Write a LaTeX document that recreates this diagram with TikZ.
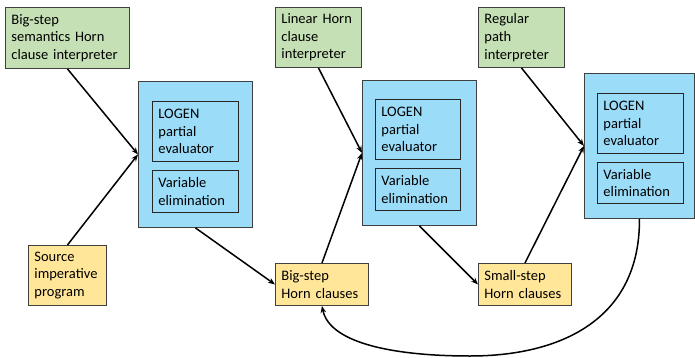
\documentclass[tikz,border=0pt]{standalone}
\usepackage{fontspec}
\setmainfont{Carlito}
\usetikzlibrary{arrows.meta}

\definecolor{boxgreen}{HTML}{C5E0B4}
\definecolor{boxblue}{HTML}{9BDCF8}
\definecolor{boxyellow}{HTML}{FFE699}
\definecolor{boxline}{HTML}{404040}

\tikzset{
  box/.style={draw=boxline, line width=0.9pt, anchor=north west, align=left,
    inner xsep=6pt, inner ysep=0pt, font=\fontsize{14.5}{17.7}\selectfont},
  gbox/.style={box, fill=boxgreen},
  ybox/.style={box, fill=boxyellow},
  pebox/.style={box, fill=boxblue},
  ibox/.style={box, draw=black!85},
  flow/.style={-{Stealth[length=7pt,width=5.5pt]}, line width=1.5pt}
}

\begin{document}
\begin{tikzpicture}[x=1pt,y=-1pt]
\useasboundingbox (0,0) rectangle (695,358);

% interpreters
\node[gbox, minimum width=124, text width=112, minimum height=61] (g1) at (5,7)
  {Big-step\\semantics Horn\\clause interpreter};
\node[gbox, minimum width=86, text width=74, minimum height=60] (g2) at (275,7)
  {Linear Horn\\clause\\interpreter};
\node[gbox, minimum width=86, text width=74, minimum height=60] (g3) at (478,7)
  {Regular\\path\\interpreter};

% partial evaluation stages
\node[pebox, minimum width=114, minimum height=146] (b1) at (138,81) {};
\node[ibox, minimum width=86, text width=74, minimum height=60] (pe1) at (152,101)
  {LOGEN\\partial\\evaluator};
\node[ibox, minimum width=86, text width=74, minimum height=42] (ve1) at (152,170)
  {Variable\\elimination};

\node[pebox, minimum width=114, minimum height=145] (b2) at (362,80) {};
\node[ibox, minimum width=85, text width=73, minimum height=60] (pe2) at (375,99)
  {LOGEN\\partial\\evaluator};
\node[ibox, minimum width=85, text width=73, minimum height=42] (ve2) at (375,168)
  {Variable\\elimination};

\node[pebox, minimum width=110, minimum height=145] (b3) at (584,73) {};
\node[ibox, minimum width=86, text width=74, minimum height=60] (pe3) at (597,93)
  {LOGEN\\partial\\evaluator};
\node[ibox, minimum width=86, text width=74, minimum height=41] (ve3) at (597,162)
  {Variable\\elimination};

% programs
\node[ybox, minimum width=78, text width=66, minimum height=60] (src) at (28,245)
  {Source\\imperative\\program};
\node[ybox, minimum width=93, text width=81, minimum height=42] (big) at (275,263)
  {Big-step\\Horn clauses};
\node[ybox, minimum width=93, text width=81, minimum height=42] (small) at (478,263)
  {Small-step\\Horn clauses};

\draw[flow] (g1.south) -- (b1.west);
\draw[flow] (src.north) -- (b1.west);
\draw[flow] (b1.south) -- (big.west);
\draw[flow] (big.north) -- (b2.west);
\draw[flow] (g2.south) -- (b2.west);
\draw[flow] (b2.south) -- (small.west);
\draw[flow] (small.north) -- (b3.west);
\draw[flow] (g3.south) -- (b3.west);

\coordinate (loop) at (470,356);
\draw[flow] (b3.south) .. controls (640,320) and (560,356) .. (loop)
  .. controls (400,356) and (330,345) .. (big.south);
\end{tikzpicture}
\end{document}
